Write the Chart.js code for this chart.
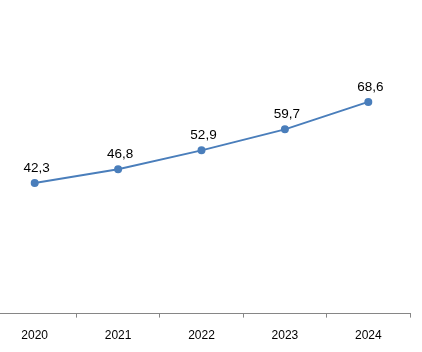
<!DOCTYPE html>
<html lang="es">
<head>
    <meta charset="UTF-8">
    <title>Serie 2020-2024</title>
    <script src="https://cdn.jsdelivr.net/npm/chart.js"></script>
    <style>
        html, body { margin: 0; padding: 0; background: #fff; overflow: hidden; }
        #wrap { position: absolute; left: -12px; top: 0; width: 434px; height: 352px; }
    </style>
</head>
<body>
    <div id="wrap"><canvas id="myChart"></canvas></div>

    <script>
        // Datos
        const years = ['2020', '2021', '2022', '2023', '2024'];
        const values = [42.3, 46.8, 52.9, 59.7, 68.6];

        // Etiquetas encima de cada punto (coma decimal)
        const pointLabels = {
            id: 'pointLabels',
            afterDatasetsDraw(chart) {
                const ctx = chart.ctx;
                const meta = chart.getDatasetMeta(0);
                ctx.save();
                ctx.font = '13.5px "Liberation Sans", Arial, sans-serif';
                ctx.fillStyle = '#000';
                ctx.textAlign = 'center';
                ctx.textBaseline = 'alphabetic';
                meta.data.forEach((pt, i) => {
                    const txt = values[i].toFixed(1).replace('.', ',');
                    ctx.fillText(txt, pt.x + 2, pt.y - 11);
                });
                ctx.restore();
            }
        };

        const ctx = document.getElementById('myChart').getContext('2d');
        new Chart(ctx, {
            type: 'line',
            data: {
                labels: years,
                datasets: [{
                    data: values,
                    borderColor: '#4a7ebb',
                    backgroundColor: '#4a7ebb',
                    borderWidth: 2,
                    pointRadius: 3,
                    pointHoverRadius: 3,
                    tension: 0
                }]
            },
            options: {
                responsive: true,
                maintainAspectRatio: false,
                animation: false,
                layout: { padding: { top: 4, right: 12, bottom: -2, left: 0 } },
                plugins: {
                    legend: { display: false },
                    tooltip: { enabled: false }
                },
                scales: {
                    x: {
                        offset: true,
                        grid: {
                            offset: true,
                            drawOnChartArea: false,
                            drawTicks: true,
                            tickLength: 4,
                            color: '#868686'
                        },
                        border: { display: true, color: '#868686', width: 1 },
                        ticks: {
                            color: '#000',
                            padding: 11,
                            font: { family: '"Liberation Sans", Arial, sans-serif', size: 12 }
                        }
                    },
                    y: {
                        display: false,
                        min: 0,
                        max: 100
                    }
                }
            },
            plugins: [pointLabels]
        });
    </script>
</body>
</html>
